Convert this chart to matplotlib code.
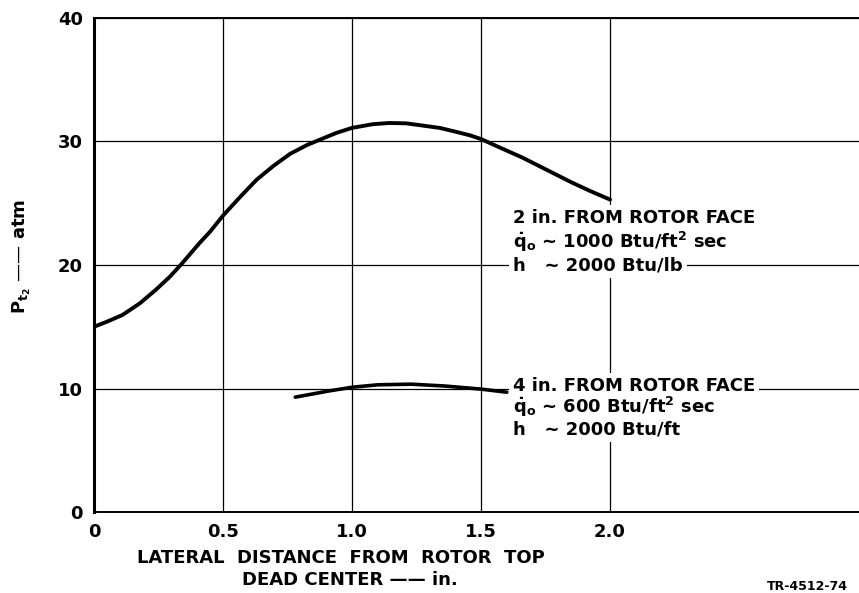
import numpy as np
import matplotlib
matplotlib.use('Agg')
from matplotlib import pyplot as plt

# curve: 2 in. from rotor face
dist_2in = [0.0, 0.049, 0.11, 0.178, 0.24, 0.294, 0.34, 0.41, 0.45, 0.5, 0.566, 0.63,
            0.694, 0.76, 0.824, 0.87, 0.94, 1.0, 1.08, 1.145, 1.21, 1.27, 1.34, 1.4,
            1.457, 1.5, 1.574, 1.66, 1.755, 1.85, 1.922, 2.0]
pt2_2in = [15.0, 15.4, 15.95, 16.9, 18.0, 19.05, 20.1, 21.8, 22.7, 24.0, 25.5, 26.9,
           28.0, 29.0, 29.7, 30.1, 30.7, 31.1, 31.4, 31.5, 31.47, 31.3, 31.1, 30.8,
           30.5, 30.2, 29.5, 28.7, 27.7, 26.7, 26.0, 25.3]

# curve: 4 in. from rotor face
dist_4in = [0.78, 0.91, 1.0, 1.10, 1.23, 1.36, 1.5, 1.6]
pt2_4in = [9.3, 9.8, 10.1, 10.3, 10.35, 10.2, 9.95, 9.7]

xticks = [0, 0.5, 1.0, 1.5, 2.0]
xticklabels = ['0', '0.5', '1.0', '1.5', '2.0']
yticks = [0, 10, 20, 30, 40]

W, H = 859, 593
fig = plt.figure(figsize=(W / 100, H / 100), dpi=100)
ax = fig.add_axes([94 / W, (H - 512) / H, 1 - 94 / W, (512 - 18) / H])
ax.set_xlim(0, 2.965)
ax.set_ylim(0, 40)

fs = 13
fw = 'bold'
ax.set_xticks(xticks)
ax.set_xticklabels(xticklabels, fontsize=fs, fontweight=fw)
ax.set_yticks(yticks)
ax.set_yticklabels([str(v) for v in yticks], fontsize=fs, fontweight=fw)
ax.tick_params(length=0, pad=8)
ax.grid(True, color='black', linewidth=0.9, zorder=1)
ax.set_axisbelow(True)

ax.spines['right'].set_visible(False)
ax.spines['left'].set_linewidth(2.2)
ax.spines['bottom'].set_linewidth(1.4)
ax.spines['top'].set_linewidth(1.4)

ax.plot(dist_2in, pt2_2in, color='black', linewidth=2.8, solid_capstyle='round',
        solid_joinstyle='round', zorder=4)
ax.plot(dist_4in, pt2_4in, color='black', linewidth=2.6, solid_capstyle='round',
        solid_joinstyle='round', zorder=4)

bb = dict(facecolor='white', edgecolor='none', pad=3)
x0 = (513 - 94) / 258
ax.text(x0, 23.8, '2 in. FROM ROTOR FACE', fontsize=fs, fontweight=fw, va='center', bbox=bb, zorder=3)
ax.text(x0, 21.9, r'$\mathbf{\dot{q}_o}$ ~ 1000 Btu/ft$\mathbf{^2}$ sec',
        fontsize=fs, fontweight=fw, va='center', bbox=bb, zorder=3)
ax.text(x0, 20.0, 'h   ~ 2000 Btu/lb', fontsize=fs, fontweight=fw, va='center', bbox=bb, zorder=3)

ax.text(x0, 10.2, '4 in. FROM ROTOR FACE', fontsize=fs, fontweight=fw, va='center', bbox=bb, zorder=3)
ax.text(x0, 8.5, r'$\mathbf{\dot{q}_o}$ ~ 600 Btu/ft$\mathbf{^2}$ sec',
        fontsize=fs, fontweight=fw, va='center', bbox=bb, zorder=3)
ax.text(x0, 6.7, 'h   ~ 2000 Btu/ft', fontsize=fs, fontweight=fw, va='center', bbox=bb, zorder=3)

fig.text(341 / W, 1 - 558 / H, 'LATERAL  DISTANCE  FROM  ROTOR  TOP', fontsize=fs,
         fontweight=fw, ha='center', va='center')
fig.text(350 / W, 1 - 580 / H, 'DEAD CENTER \u2014\u2014 in.', fontsize=fs,
         fontweight=fw, ha='center', va='center')
fig.text(22 / W, 1 - 256 / H, r'$\mathbf{P_{t_2}}$ ' + '\u2014\u2014 atm',
         fontsize=fs, fontweight=fw, rotation=90, ha='center', va='center')
fig.text(767 / W, 1 - 590 / H, 'TR-4512-74', fontsize=9, fontweight=fw, ha='left', va='baseline')

fig.savefig('out.png', dpi=100)
